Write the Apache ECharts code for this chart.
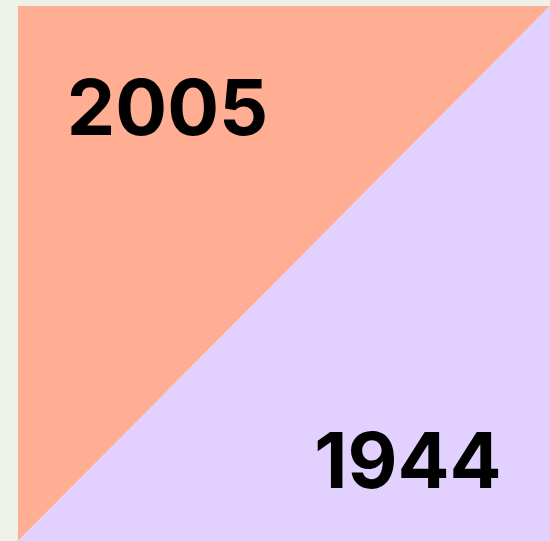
<!DOCTYPE html>
<html>
<head>
<meta charset="utf-8">
<script src="https://cdn.jsdelivr.net/npm/echarts@6/dist/echarts.min.js"></script>
<style>
  html, body { margin: 0; padding: 0; background: #eef0ea; }
  #chart { width: 550px; height: 541px; }
</style>
</head>
<body>
<div id="chart"></div>
<script>
// two halves of the square: upper-left and lower-right
var labels = ['2005', '1944'];
var halves = [
    [[0, 1], [1, 1], [0, 0]],
    [[1, 1], [1, 0], [0, 0]]
];
var colors = ['#ffae94', '#e2d1ff'];

var chart = echarts.init(document.getElementById('chart'));

var option = {
    backgroundColor: '#eef0ea',
    animation: false,
    grid: {
        left: 18,
        top: 6,
        width: 539,
        height: 539
    },
    xAxis: { type: 'value', min: 0, max: 1, show: false },
    yAxis: { type: 'value', min: 0, max: 1, show: false },
    series: [
        {
            type: 'custom',
            data: labels.map(function (l, i) { return [i]; }),
            renderItem: function (params, api) {
                var i = api.value(0);
                var pts = halves[i].map(function (p) { return api.coord(p); });
                // label spot inside each triangle
                var spot = i === 0 ? api.coord([0.281, 0.803]) : api.coord([0.733, 0.143]);
                return {
                    type: 'group',
                    children: [
                        {
                            type: 'polygon',
                            shape: { points: pts },
                            style: { fill: colors[i] }
                        },
                        {
                            type: 'text',
                            x: spot[0],
                            y: spot[1],
                            style: {
                                text: labels[i],
                                fill: '#000',
                                font: '700 77px Inter',
                                align: 'center',
                                verticalAlign: 'middle'
                            }
                        }
                    ]
                };
            }
        }
    ]
};

chart.setOption(option);
</script>
</body>
</html>
